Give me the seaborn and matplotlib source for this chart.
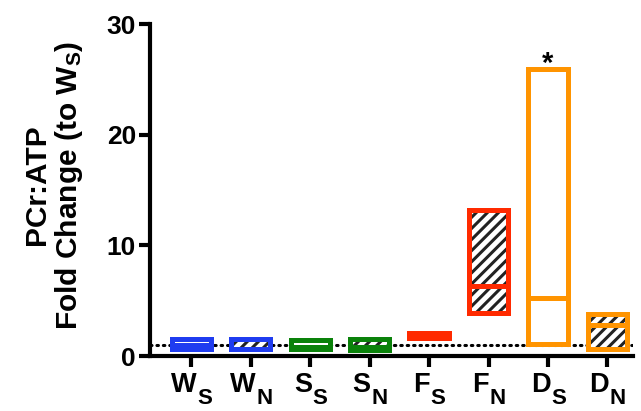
import numpy as np
import pandas as pd
import matplotlib
matplotlib.use("Agg")
import matplotlib.pyplot as plt
import matplotlib.transforms as mtransforms
import seaborn as sns

# ---- data ----
groups = ["W_S", "W_N", "S_S", "S_N", "F_S", "F_N", "D_S", "D_N"]
label_main = ["W", "W", "S", "S", "F", "F", "D", "D"]
label_sub = ["S", "N", "S", "N", "S", "N", "S", "N"]
min_vals = [0.60, 0.60, 0.60, 0.55, 1.67, 3.9, 1.06, 0.63]
max_vals = [1.55, 1.58, 1.46, 1.50, 2.12, 13.2, 25.9, 3.84]
mean_vals = [0.95, 0.66, 0.85, 0.85, 1.90, 6.3, 5.26, 2.77]
hatched = [False, True, False, True, False, True, False, True]
colors = ["#1f3cf0", "#1f3cf0", "#0a820a", "#0a820a",
          "#ff2a00", "#ff2a00", "#ff9400", "#ff9400"]
reference_level = 1.0
signif_group = "D_S"
y_ticks = [0, 10, 20, 30]

df = pd.DataFrame({"group": groups, "lo": min_vals, "hi": max_vals,
                   "mean": mean_vals, "hatched": hatched, "color": colors})

sns.set_style("ticks")
plt.rcParams["font.family"] = ["Liberation Sans", "DejaVu Sans"]
plt.rcParams["font.weight"] = "bold"
plt.rcParams["mathtext.fontset"] = "custom"
plt.rcParams["mathtext.rm"] = "Liberation Sans:bold"
plt.rcParams["mathtext.bf"] = "Liberation Sans:bold"
plt.rcParams["mathtext.it"] = "Liberation Sans:bold"
plt.rcParams["hatch.linewidth"] = 2.2
for k in ["text.color", "axes.labelcolor", "xtick.color", "ytick.color",
          "axes.edgecolor"]:
    plt.rcParams[k] = "black"

fig = plt.figure(figsize=(6.41, 4.11), dpi=100)
ax = fig.add_axes([150/641, 1-356/411, (633-150)/641, (356-24)/411])

x = np.arange(len(df))
width = 0.66
lw = 3.6

# reference dotted line
ax.axhline(reference_level, color="black", linestyle=(0, (0.5, 1.6)),
           lw=2.2, zorder=1, dash_capstyle="round")

for i, r in df.iterrows():
    h = r["hi"] - r["lo"]
    ax.bar(i, h, bottom=r["lo"], width=width, facecolor="white",
           edgecolor="#222222" if r["hatched"] else "white",
           hatch="///" if r["hatched"] else None, linewidth=0, zorder=2)
    ax.hlines(r["mean"], i - width/2, i + width/2, color=r["color"],
              lw=lw, zorder=3)
    ax.bar(i, h, bottom=r["lo"], width=width, facecolor="none",
           edgecolor=r["color"], linewidth=lw, zorder=4)

# significance marker
si = groups.index(signif_group)
ax.text(si, 25.7, "*", ha="center", va="baseline", fontsize=21,
        fontweight="bold", color="black")

ax.set_xlim(-0.695, 7.43)
ax.set_ylim(0, 30)
ax.set_yticks(y_ticks)
ax.set_yticklabels([str(v) for v in y_ticks], fontsize=19, fontweight="bold")
ax.set_xticks(x)
ax.set_xticklabels([])
ax.tick_params(axis="y", width=3, length=8, pad=2)
ax.tick_params(axis="x", width=3, length=8, pad=3)
sns.despine(ax=ax)
for s in ["left", "bottom"]:
    ax.spines[s].set_linewidth(3)
    ax.spines[s].set_zorder(5)

# x category labels with large subscripts
trans = mtransforms.blended_transform_factory(ax.transData, ax.transAxes)
mains, subs = [], []
for i, (m, s) in enumerate(zip(label_main, label_sub)):
    t = ax.annotate(m, xy=(i, 0), xycoords=trans, xytext=(0, -11.5),
                    textcoords="offset points", ha="left", va="top",
                    fontsize=19.5, fontweight="bold", annotation_clip=False)
    st = ax.annotate(s, xy=(1, 0), xycoords=t, xytext=(0.5, -4.5),
                     textcoords="offset points", ha="left", va="baseline",
                     fontsize=16, fontweight="bold", annotation_clip=False)
    mains.append(t)
    subs.append(st)
fig.canvas.draw()
renderer = fig.canvas.get_renderer()
for t, st in zip(mains, subs):
    wm = t.get_window_extent(renderer).width
    ws = st.get_window_extent(renderer).width
    total_pt = (wm + ws) * 72 / fig.dpi
    t.set_position((-total_pt / 2, -11.5))

fig.text(54/641, 0.55, "PCr:ATP\nFold Change (to W$_\\mathrm{S}$)",
         rotation=90, ha="center", va="center", multialignment="center",
         fontsize=21.5, fontweight="bold", linespacing=1.1)

fig.savefig("out.png", dpi=100)
